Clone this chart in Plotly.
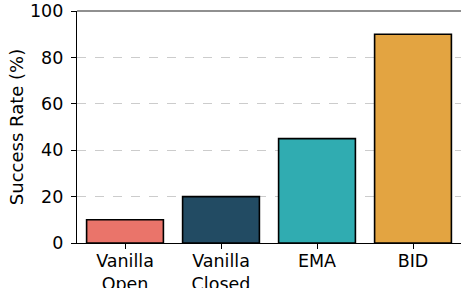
import plotly.graph_objects as go

categories = ["Vanilla<br>Open", "Vanilla<br>Closed", "EMA", "BID"]
success_rate = [10, 20, 45, 90]
colors = ["#EA746A", "#224B63", "#30ACB1", "#E3A441"]
y_ticks = [0, 20, 40, 60, 80, 100]

fig = go.Figure()
fig.add_trace(go.Bar(
    x=list(range(len(categories))),
    y=success_rate,
    width=0.8,
    marker=dict(color=colors, line=dict(color="black", width=1.6)),
))

font = dict(family="DejaVu Sans", size=17.5, color="black")
title_font = dict(family="DejaVu Sans", size=18, color="black")
fig.update_layout(
    width=461, height=288,
    margin=dict(l=77, r=0, t=11, b=45),
    plot_bgcolor="white", paper_bgcolor="white",
    showlegend=False,
    font=font,
    xaxis=dict(
        tickmode="array", tickvals=list(range(len(categories))), ticktext=categories,
        range=[-0.5, 3.5], showline=True, linecolor="black", linewidth=1.2,
        mirror=False, ticks="outside", ticklen=5, tickcolor="black",
        ticklabelstandoff=-3,
        showgrid=False, zeroline=False, tickfont=font, automargin=False,
    ),
    yaxis=dict(
        range=[0, 100], tickvals=y_ticks, showline=True, linecolor="black",
        linewidth=1.2, ticks="outside", ticklen=5, tickcolor="black",
        ticklabelstandoff=4,
        showgrid=True, gridcolor="#cccccc", griddash="dash", gridwidth=0.8,
        zeroline=False, tickfont=font, automargin=False,
        title=dict(text="Success Rate (%)", font=title_font, standoff=1),
    ),
)
fig.add_shape(type="line", xref="paper", yref="paper", x0=0, x1=1, y0=1, y1=1,
              line=dict(color="#222222", width=1.2), layer="above")
fig.write_html("out.html", config={"displayModeBar": False},
               post_script="document.body.style.margin='0';document.body.style.overflow='hidden';")
